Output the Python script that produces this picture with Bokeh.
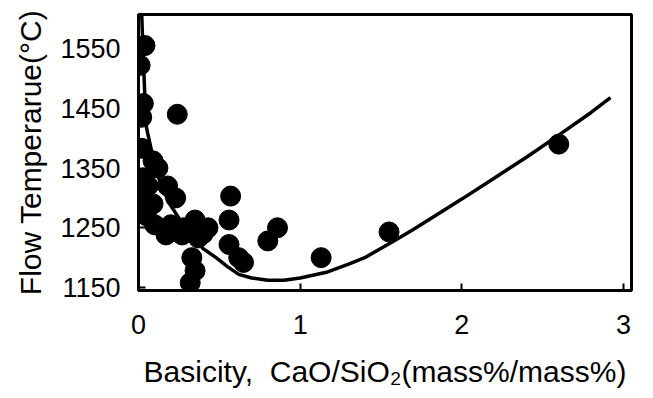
from bokeh.plotting import figure
from bokeh.models import Range1d, FixedTicker
from bokeh.embed import file_html
from bokeh.resources import INLINE

# Measured data points: basicity (CaO/SiO2) vs flow temperature (°C)
basicity = [0.04, 0.01, 0.03, 0.02, 0.24, 0.02, 0.09, 0.12, 0.03, 0.18,
            0.02, 0.23, 0.09, 0.57, 0.56, 0.10, 0.20, 0.35, 0.43, 0.27,
            0.17, 0.37, 0.56, 0.80, 0.86, 0.62, 0.65, 0.33, 0.35, 0.32,
            1.13, 1.55, 2.60, 0.05, 0.06, 0.28, 0.40]
flow_temp = [1555, 1522, 1458, 1435, 1440, 1383, 1362, 1350, 1333, 1320,
             1300, 1300, 1290, 1303, 1263, 1255, 1255, 1263, 1250, 1238,
             1238, 1233, 1222, 1228, 1250, 1200, 1192, 1200, 1178, 1158,
             1200, 1243, 1390, 1270, 1320, 1250, 1240]

# Fitted curve
curve_x = [0.02, 0.03, 0.04, 0.05, 0.09, 0.14, 0.20, 0.30, 0.40, 0.48,
           0.55, 0.62, 0.70, 0.80, 0.90, 1.00, 1.17, 1.30, 1.40, 1.58,
           1.70, 1.87, 2.00, 2.20, 2.40, 2.60, 2.80, 2.92]
curve_y = [1607, 1530, 1467, 1417, 1367, 1320, 1287, 1245, 1215, 1200,
           1185, 1172, 1166, 1162, 1162, 1166, 1176, 1189, 1200, 1228,
           1247, 1276, 1298, 1333, 1368, 1405, 1443, 1468]

x_ticks = [0, 1, 2, 3]
y_ticks = [1150, 1250, 1350, 1450, 1550]

p = figure(width=653, height=398, output_backend="svg", toolbar_location=None,
           x_range=Range1d(0, 3.05), y_range=Range1d(1145, 1607))
p.min_border_left = 138
p.min_border_right = 22
p.min_border_top = 14
p.min_border_bottom = 108

p.background_fill_color = "white"
p.border_fill_color = "white"
p.xgrid.visible = False
p.ygrid.visible = False
p.outline_line_color = "black"
p.outline_line_width = 3

p.line(curve_x, curve_y, line_color="black", line_width=3.5)
p.scatter(basicity, flow_temp, size=20, fill_color="black", line_color="black")

font = "Liberation Sans"
p.xaxis.ticker = FixedTicker(ticks=x_ticks)
p.yaxis.ticker = FixedTicker(ticks=y_ticks)
for ax in (p.xaxis[0], p.yaxis[0]):
    ax.axis_line_width = 3
    ax.axis_line_color = "black"
    ax.major_tick_in = 7
    ax.major_tick_out = 0
    ax.major_tick_line_width = 2
    ax.major_tick_line_color = "black"
    ax.minor_tick_line_color = None
    ax.major_label_text_font = font
    ax.major_label_text_font_size = "27px"
    ax.major_label_text_color = "black"
    ax.axis_label_text_font = font
    ax.axis_label_text_font_style = "normal"
    ax.axis_label_text_color = "black"

p.xaxis.axis_label = "Basicity,\u00a0\u00a0CaO/SiO\u2082(mass%/mass%)"
p.xaxis.axis_label_text_font_size = "30px"
p.xaxis.major_label_standoff = 24
p.xaxis.axis_label_standoff = 18

p.yaxis.axis_label = "Flow Temperarue(\u00b0C)"
p.yaxis.axis_label_text_font_size = "30px"
p.yaxis.major_label_standoff = 18
p.yaxis.axis_label_standoff = 10

open("out.html", "w").write(file_html(p, INLINE))
